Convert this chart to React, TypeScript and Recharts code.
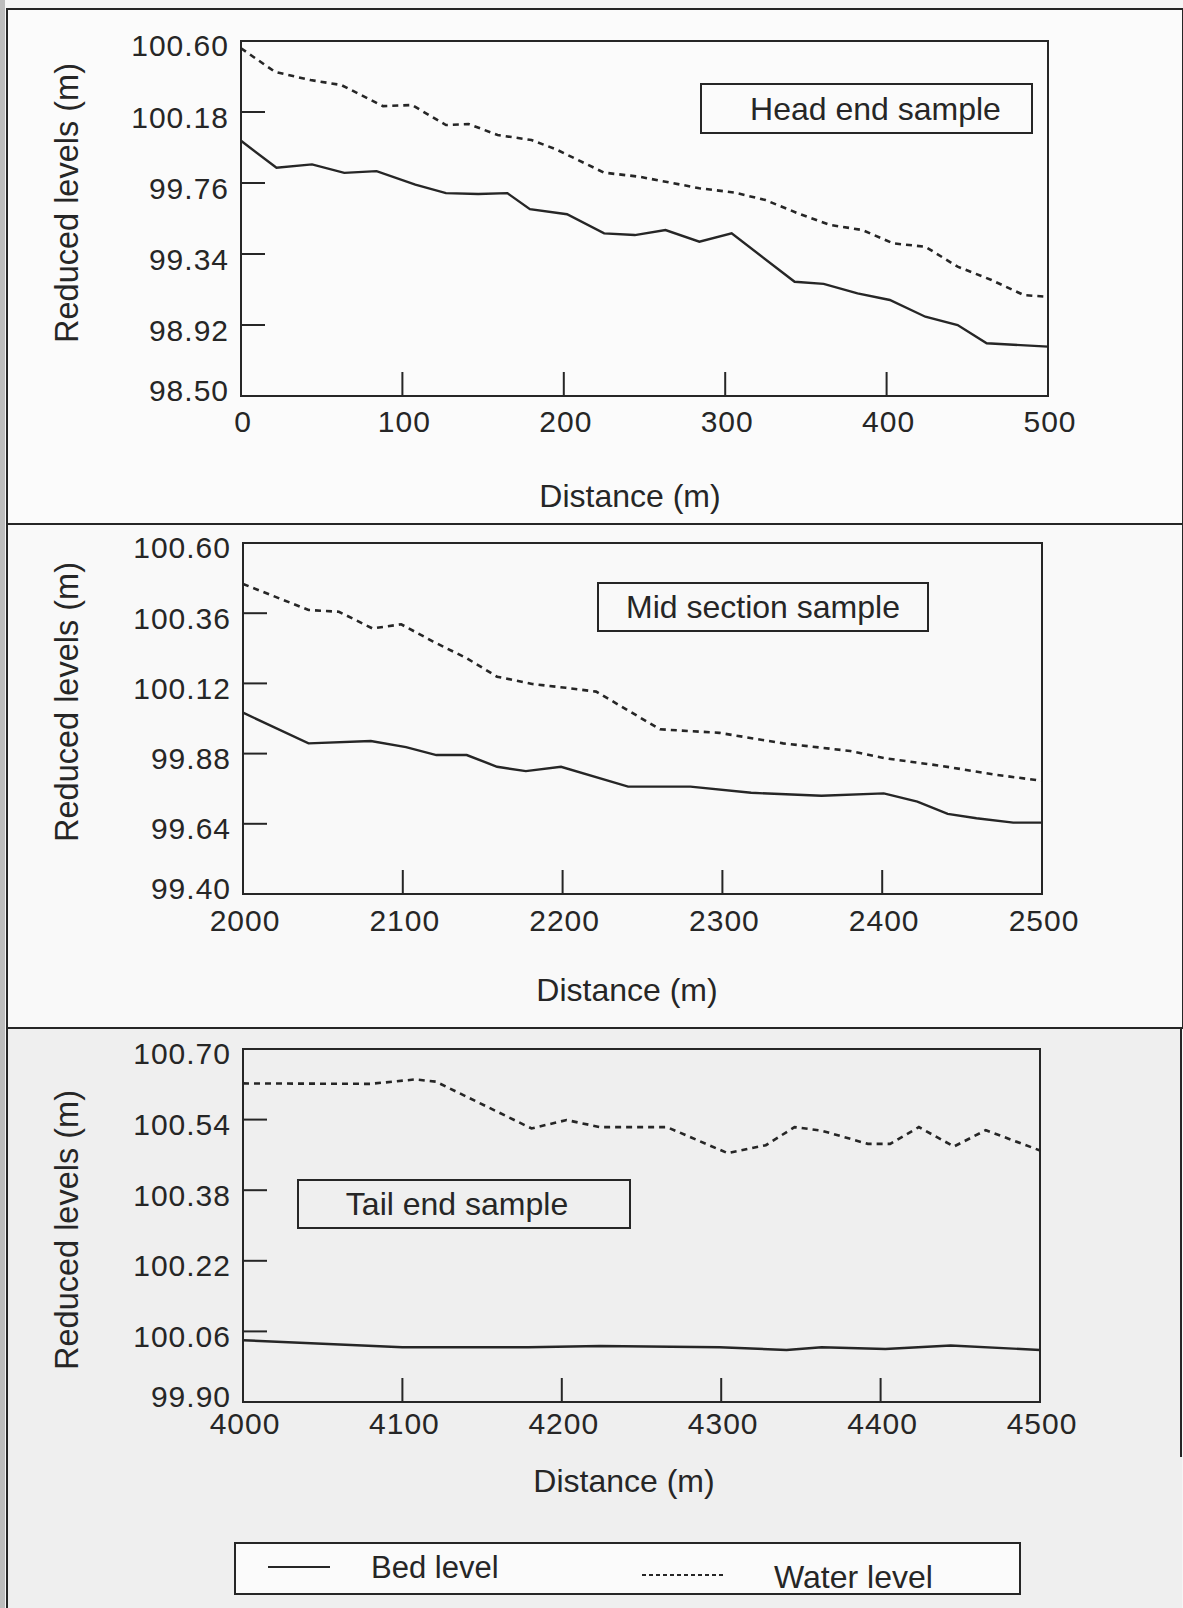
import { LineChart, Line, XAxis, YAxis, ReferenceArea } from 'recharts';

const INK = '#262626';
const FONT = '"Liberation Sans", Arial, Helvetica, sans-serif';

/* ---- data: distance (m) and reduced level (m) ---- */

const headBedDist = [0, 22, 44, 64, 84, 108, 127, 147, 165, 179, 202, 225, 244, 263, 284, 304, 343, 361, 382, 402, 424, 444, 462, 500];
const headBedLevel = [100.01, 99.85, 99.87, 99.82, 99.83, 99.75, 99.7, 99.695, 99.7, 99.605, 99.575, 99.462, 99.452, 99.482, 99.413, 99.462, 99.176, 99.163, 99.107, 99.068, 98.969, 98.92, 98.812, 98.792];
const headWaterDist = [0, 21, 43, 62, 88, 106, 127, 141, 159, 180, 195, 225, 247, 284, 306, 325, 345, 365, 385, 404, 424, 444, 465, 485, 500];
const headWaterLevel = [100.557, 100.418, 100.369, 100.34, 100.215, 100.221, 100.103, 100.109, 100.044, 100.014, 99.96, 99.821, 99.797, 99.729, 99.703, 99.659, 99.581, 99.512, 99.482, 99.403, 99.383, 99.265, 99.186, 99.097, 99.087];

const midBedDist = [2000, 2041, 2080, 2102, 2121, 2140, 2159, 2177, 2199, 2241, 2280, 2318, 2362, 2401, 2422, 2441, 2459, 2482, 2500];
const midBedLevel = [100.02, 99.915, 99.923, 99.902, 99.875, 99.875, 99.835, 99.82, 99.835, 99.767, 99.767, 99.746, 99.736, 99.744, 99.716, 99.674, 99.659, 99.644, 99.644];
const midWaterDist = [2000, 2041, 2060, 2081, 2099, 2119, 2140, 2159, 2181, 2202, 2221, 2261, 2298, 2338, 2380, 2402, 2437, 2472, 2500];
const midWaterLevel = [100.46, 100.371, 100.365, 100.308, 100.322, 100.263, 100.206, 100.143, 100.118, 100.105, 100.092, 99.963, 99.951, 99.915, 99.889, 99.864, 99.838, 99.807, 99.787];

const tailBedDist = [4000, 4100, 4179, 4224, 4299, 4341, 4363, 4403, 4444, 4500];
const tailBedLevel = [100.04, 100.024, 100.024, 100.027, 100.024, 100.018, 100.024, 100.02, 100.028, 100.018];
const tailWaterDist = [4000, 4080, 4108, 4121, 4181, 4203, 4224, 4266, 4304, 4328, 4346, 4363, 4392, 4406, 4424, 4446, 4466, 4500];
const tailWaterLevel = [100.622, 100.621, 100.631, 100.626, 100.52, 100.539, 100.523, 100.523, 100.464, 100.482, 100.523, 100.515, 100.485, 100.485, 100.523, 100.479, 100.516, 100.47];

const headXTicks = [0, 100, 200, 300, 400, 500];
const midXTicks = [2000, 2100, 2200, 2300, 2400, 2500];
const tailXTicks = [4000, 4100, 4200, 4300, 4400, 4500];

const headYTicks = [98.5, 98.92, 99.34, 99.76, 100.18, 100.6];
const midYTicks = [99.4, 99.64, 99.88, 100.12, 100.36, 100.6];
const tailYTicks = [99.9, 100.06, 100.22, 100.38, 100.54, 100.7];

const toPoints = (dist: number[], level: number[]) => dist.map((d, i) => ({ d, v: level[i] }));

/* ---- inward ticks like the original plot ---- */

function YTick({ x, y, payload, lo, hi }: any) {
  const inner = payload.value > lo && payload.value < hi;
  // labels sit a little below their tick, the bottom one a little above
  const shift = payload.value <= lo ? -6 : payload.value >= hi ? 4 : 5;
  return (
    <g>
      {inner && <line x1={x} y1={y} x2={x + 24} y2={y} stroke={INK} strokeWidth={2} />}
      <text
        x={x - 12}
        y={y + shift + 10.5}
        textAnchor="end"
        fill={INK}
        fontSize={30}
        letterSpacing={1}
        fontFamily={FONT}
      >
        {payload.value.toFixed(2)}
      </text>
    </g>
  );
}

function XTick({ x, y, payload, lo, hi, drop }: any) {
  const inner = payload.value > lo && payload.value < hi;
  return (
    <g>
      {inner && <line x1={x} y1={y} x2={x} y2={y - 24} stroke={INK} strokeWidth={2} />}
      <text x={x + 2} y={y + drop} textAnchor="middle" fill={INK} fontSize={30} letterSpacing={1} fontFamily={FONT}>
        {payload.value}
      </text>
    </g>
  );
}

interface SectionProps {
  top: number;
  plot: { top: number; bottom: number; left: number; right: number };
  bedDist: number[];
  bedLevel: number[];
  waterDist: number[];
  waterLevel: number[];
  xTicks: number[];
  yTicks: number[];
  drop: number;
}

const CHART_W = 1183;
const CHART_H = 470;
const Y_AXIS_W = 120;
const X_AXIS_H = 50;

function SectionChart({ top, plot, bedDist, bedLevel, waterDist, waterLevel, xTicks, yTicks, drop }: SectionProps) {
  const xLo = xTicks[0];
  const xHi = xTicks[xTicks.length - 1];
  const yLo = yTicks[0];
  const yHi = yTicks[yTicks.length - 1];
  const margin = {
    top: plot.top - top,
    left: plot.left - Y_AXIS_W,
    right: CHART_W - plot.right,
    bottom: top + CHART_H - plot.bottom - X_AXIS_H,
  };
  return (
    <div style={{ position: 'absolute', left: 0, top }}>
      <LineChart width={CHART_W} height={CHART_H} margin={margin} style={{ overflow: 'visible' }}>
        <XAxis
          dataKey="d"
          type="number"
          domain={[xLo, xHi]}
          ticks={xTicks}
          interval={0}
          height={X_AXIS_H}
          axisLine={false}
          tickLine={false}
          tickSize={0}
          tickMargin={0}
          tick={(p: any) => <XTick {...p} lo={xLo} hi={xHi} drop={drop} />}
          allowDuplicatedCategory={false}
        />
        <YAxis
          type="number"
          domain={[yLo, yHi]}
          ticks={yTicks}
          interval={0}
          width={Y_AXIS_W}
          axisLine={false}
          tickLine={false}
          tickSize={0}
          tickMargin={0}
          tick={(p: any) => <YTick {...p} lo={yLo} hi={yHi} />}
        />
        <ReferenceArea x1={xLo} x2={xHi} y1={yLo} y2={yHi} stroke={INK} strokeWidth={2} fill="none" fillOpacity={0} />
        <Line
          data={toPoints(bedDist, bedLevel)}
          dataKey="v"
          name="Bed level"
          type="linear"
          stroke={INK}
          strokeWidth={2.4}
          dot={false}
          isAnimationActive={false}
        />
        <Line
          data={toPoints(waterDist, waterLevel)}
          dataKey="v"
          name="Water level"
          type="linear"
          stroke={INK}
          strokeWidth={2.6}
          strokeDasharray="6 5"
          dot={false}
          isAnimationActive={false}
        />
      </LineChart>
    </div>
  );
}

const textStyle: React.CSSProperties = {
  position: 'absolute',
  fontFamily: FONT,
  color: INK,
  whiteSpace: 'nowrap',
  lineHeight: 1,
};

function YTitle({ cy }: { cy: number }) {
  return (
    <div style={{ ...textStyle, fontSize: 32.5, left: 67, top: cy, transform: 'translate(-50%, -50%) rotate(-90deg)' }}>
      Reduced levels (m)
    </div>
  );
}

function XTitle({ cx, cy }: { cx: number; cy: number }) {
  return (
    <div style={{ ...textStyle, fontSize: 32, left: cx, top: cy, transform: 'translate(-50%, -50%)' }}>
      Distance (m)
    </div>
  );
}

function NoteBox({ left, top, width, height, text, nudge }: any) {
  return (
    <div
      style={{
        ...textStyle,
        fontSize: 32,
        left,
        top,
        width,
        height,
        boxSizing: 'border-box',
        border: `2px solid ${INK}`,
        display: 'flex',
        alignItems: 'center',
        justifyContent: 'center',
      }}
    >
      <span style={{ position: 'relative', left: nudge }}>{text}</span>
    </div>
  );
}

export default function App() {
  return (
    <div
      style={{
        position: 'absolute',
        left: 0,
        top: 0,
        width: 1183,
        height: 1608,
        background: '#f6f6f6',
        overflow: 'hidden',
      }}
    >
      {/* scanned page frame */}
      <div style={{ position: 'absolute', left: 0, top: 0, width: 5, height: 1608, background: '#bdbdbd' }} />
      <div style={{ position: 'absolute', left: 6, top: 8, width: 1174, height: 515, borderTop: `2px solid ${INK}`, borderLeft: `2px solid ${INK}`, borderRight: `2px solid ${INK}`, background: '#fbfbfb' }} />
      <div style={{ position: 'absolute', left: 6, top: 523, width: 1174, height: 504, borderTop: `2px solid ${INK}`, borderLeft: `2px solid ${INK}`, borderRight: `2px solid ${INK}`, background: '#f9f9f9' }} />
      <div style={{ position: 'absolute', left: 6, top: 1027, width: 1174, height: 580, borderTop: `2px solid ${INK}`, borderLeft: `2px solid ${INK}`, borderBottom: `2px solid ${INK}`, background: '#efefef' }} />
      <div style={{ position: 'absolute', left: 1180, top: 1027, width: 2, height: 430, background: INK }} />

      <SectionChart
        top={0}
        plot={{ top: 41, bottom: 396, left: 241, right: 1048 }}
        bedDist={headBedDist}
        bedLevel={headBedLevel}
        waterDist={headWaterDist}
        waterLevel={headWaterLevel}
        xTicks={headXTicks}
        yTicks={headYTicks}
        drop={36}
      />
      <SectionChart
        top={510}
        plot={{ top: 543, bottom: 894, left: 243, right: 1042 }}
        bedDist={midBedDist}
        bedLevel={midBedLevel}
        waterDist={midWaterDist}
        waterLevel={midWaterLevel}
        xTicks={midXTicks}
        yTicks={midYTicks}
        drop={37}
      />
      <SectionChart
        top={1020}
        plot={{ top: 1049, bottom: 1402, left: 243, right: 1040 }}
        bedDist={tailBedDist}
        bedLevel={tailBedLevel}
        waterDist={tailWaterDist}
        waterLevel={tailWaterLevel}
        xTicks={tailXTicks}
        yTicks={tailYTicks}
        drop={32}
      />

      <YTitle cy={203} />
      <YTitle cy={702} />
      <YTitle cy={1230} />
      <XTitle cx={630} cy={496} />
      <XTitle cx={627} cy={990} />
      <XTitle cx={624} cy={1481} />

      <NoteBox left={700} top={83} width={333} height={51} text="Head end sample" nudge={9} />
      <NoteBox left={597} top={582} width={332} height={50} text="Mid section sample" nudge={0} />
      <NoteBox left={297} top={1179} width={334} height={50} text="Tail end sample" nudge={-7} />

      {/* legend */}
      <div
        style={{
          position: 'absolute',
          left: 234,
          top: 1542,
          width: 787,
          height: 53,
          boxSizing: 'border-box',
          border: `2px solid ${INK}`,
          background: '#fbfbfb',
        }}
      />
      <svg style={{ position: 'absolute', left: 0, top: 0 }} width={1183} height={1608}>
        <line x1={268} y1={1567} x2={330} y2={1567} stroke={INK} strokeWidth={2} />
        <line x1={642} y1={1575} x2={723} y2={1575} stroke={INK} strokeWidth={2} strokeDasharray="4 3" />
      </svg>
      <div style={{ ...textStyle, fontSize: 31, left: 371, top: 1567, transform: 'translateY(-50%)' }}>Bed level</div>
      <div style={{ ...textStyle, fontSize: 32, left: 774, top: 1577, transform: 'translateY(-50%)' }}>Water level</div>
    </div>
  );
}
